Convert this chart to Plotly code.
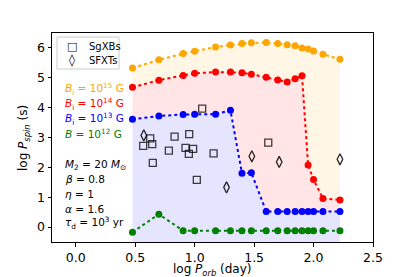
import plotly.graph_objects as go

# log orbital period (day)
log_porb = [0.477, 0.699, 0.903, 1.0, 1.176, 1.301, 1.398, 1.477, 1.602, 1.699,
            1.778, 1.845, 1.903, 1.954, 2.0, 2.079, 2.222]

# log spin period (s) for each initial field
p_b15 = [5.33, 5.60, 5.81, 5.89, 6.03, 6.10, 6.15, 6.17, 6.18, 6.15,
         6.11, 6.07, 6.00, 5.96, 5.90, 5.79, 5.62]
p_b14 = [4.68, 4.92, 5.08, 5.15, 5.19, 5.19, 5.17, 5.12, 5.02, 4.93,
         4.86, 4.97, 5.07, 2.08, 1.59, 0.96, 0.91]
p_b13 = [3.61, 3.72, 3.77, 3.78, 3.78, 3.91, 1.80, 1.82, 0.52, 0.52,
         0.52, 0.52, 0.52, 0.52, 0.52, 0.52, 0.52]
p_b12 = [-0.17, 0.43, -0.12, -0.12, -0.12, -0.12, -0.12, -0.12, -0.12, -0.12,
         -0.12, -0.12, -0.12, -0.12, -0.12, -0.12, -0.12]

# observed systems
sgxb_x = [0.626, 0.567, 0.643, 0.831, 0.954, 0.783, 0.923, 0.987, 0.951, 1.159,
          0.648, 1.018, 1.063, 1.619]
sgxb_y = [2.97, 2.72, 2.78, 3.03, 3.11, 2.56, 2.65, 2.62, 2.45, 2.47,
          2.15, 1.58, 3.97, 2.83]
sfxt_x = [0.572, 1.268, 1.481, 1.711, 2.222]
sfxt_y = [3.07, 1.33, 2.37, 2.18, 2.27]

legend_names = ["SgXBs", "SFXTs"]
legend_glyphs = ["□", "◊"]

field_labels = ["<i>B</i><sub>i</sub> = 10<sup>15</sup> G",
                "<i>B</i><sub>i</sub> = 10<sup>14</sup> G",
                "<i>B</i><sub>i</sub> = 10<sup>13</sup> G",
                "<i>B</i> = 10<sup>12</sup> G"]
param_labels = ["<i>M</i><sub>2</sub> = 20 <i>M</i><sub>⊙</sub>",
                "<i>β</i> = 0.8",
                "<i>η</i> = 1",
                "<i>α</i> = 1.6",
                "<i>τ</i><sub>d</sub> = 10<sup>3</sup> yr"]

x_title = "log <i>P</i><sub><i>orb</i></sub> (day)"
y_title = "log <i>P</i><sub><i>spin</i></sub> (s)"

YMIN, YMAX = -0.5, 6.5
XMIN, XMAX = -0.2, 2.5

ORANGE = "#FFA500"
RED = "#FF0000"
BLUE = "#0000FF"
GREEN = "#008000"

W, H = 415, 277
ML, MR, MT, MB = 52, 42, 33, 35
PW, PH = W - ML - MR, H - MT - MB


def px2paper_x(px):
    return (px - ML) / PW


def px2paper_y(py):
    return (H - MB - py) / PH


fig = go.Figure()

# baseline for fill
fig.add_trace(go.Scatter(x=log_porb, y=[YMIN - 1] * len(log_porb), mode="lines",
                         line=dict(width=0), showlegend=False, hoverinfo="skip"))
for ys, col, fillc in [(p_b13, BLUE, "rgba(0,0,255,0.1)"),
                       (p_b14, RED, "rgba(255,0,0,0.1)"),
                       (p_b15, ORANGE, "rgba(255,165,0,0.1)")]:
    fig.add_trace(go.Scatter(x=log_porb, y=ys, mode="lines+markers",
                             line=dict(color=col, width=2, dash="dot"),
                             marker=dict(color=col, size=7),
                             fill="tonexty", fillcolor=fillc, showlegend=False))

fig.add_trace(go.Scatter(x=log_porb, y=p_b12, mode="lines+markers",
                         line=dict(color=GREEN, width=2, dash="dot"),
                         marker=dict(color=GREEN, size=7), showlegend=False))

fig.add_trace(go.Scatter(x=sgxb_x, y=sgxb_y, mode="markers", name=legend_names[0],
                         showlegend=False,
                         marker=dict(symbol="square-open", size=7,
                                     color="rgba(0,0,0,0.75)",
                                     line=dict(width=1.3))))
fig.add_trace(go.Scatter(x=sfxt_x, y=sfxt_y, mode="markers", name=legend_names[1],
                         showlegend=False,
                         marker=dict(symbol="diamond-tall-open", size=8,
                                     color="rgba(0,0,0,0.85)",
                                     line=dict(width=1.3))))

ann = []
TEXT_X = px2paper_x(63)
for lab, col, py in zip(field_labels, [ORANGE, RED, BLUE, GREEN],
                        [89, 104, 119, 133]):
    ann.append(dict(x=TEXT_X, y=px2paper_y(py), xref="paper", yref="paper",
                    text=lab, showarrow=False,
                    xanchor="left", yanchor="middle",
                    font=dict(color=col, size=10.5, family="DejaVu Sans")))
for lab, py in zip(param_labels, [165, 179, 194, 209, 223]):
    ann.append(dict(x=TEXT_X, y=px2paper_y(py), xref="paper", yref="paper",
                    text=lab, showarrow=False,
                    xanchor="left", yanchor="middle",
                    font=dict(color="black", size=10.5, family="DejaVu Sans")))

# legend (drawn as a framed box with glyph + label text)
for i, (g, name) in enumerate(zip(legend_glyphs, legend_names)):
    py = 46 + 14 * i
    ann.append(dict(x=px2paper_x(72), y=px2paper_y(py), xref="paper", yref="paper",
                    text=g, showarrow=False, xanchor="center", yanchor="middle",
                    font=dict(color="black", size=11 if i == 0 else 12,
                              family="DejaVu Sans")))
    ann.append(dict(x=px2paper_x(87), y=px2paper_y(py), xref="paper", yref="paper",
                    text=name, showarrow=False, xanchor="left", yanchor="middle",
                    font=dict(color="black", size=10, family="DejaVu Sans")))

# axis titles
ann.append(dict(x=0.5, y=px2paper_y(261), xref="paper", yref="paper",
                text=x_title, showarrow=False, xanchor="center", yanchor="top",
                borderpad=0,
                font=dict(color="black", size=12, family="DejaVu Sans")))
ann.append(dict(x=px2paper_x(24), y=px2paper_y(138), xref="paper", yref="paper",
                text=y_title, showarrow=False, xanchor="center", yanchor="middle",
                textangle=-90,
                font=dict(color="black", size=12, family="DejaVu Sans")))

shapes = [dict(type="rect", xref="paper", yref="paper",
               x0=px2paper_x(57), x1=px2paper_x(119),
               y0=px2paper_y(69), y1=px2paper_y(37),
               line=dict(color="#cccccc", width=1),
               fillcolor="rgba(255,255,255,0.8)", layer="above")]

axis_common = dict(showline=True, linecolor="black", linewidth=1, mirror=True,
                   ticks="outside", ticklen=3.5, tickwidth=1, tickcolor="black",
                   showgrid=False, zeroline=False, automargin=False,
                   tickfont=dict(size=12.5, color="black", family="DejaVu Sans"))

fig.update_layout(
    width=W, height=H,
    margin=dict(l=ML, r=MR, t=MT, b=MB),
    paper_bgcolor="white", plot_bgcolor="white",
    font=dict(family="DejaVu Sans", color="black"),
    xaxis=dict(range=[XMIN, XMAX], tickvals=[0, 0.5, 1.0, 1.5, 2.0, 2.5],
               ticktext=["0.0", "0.5", "1.0", "1.5", "2.0", "2.5"],
               **axis_common),
    yaxis=dict(range=[YMIN, YMAX], tickvals=[0, 1, 2, 3, 4, 5, 6],
               **axis_common),
    annotations=ann,
    shapes=shapes,
    showlegend=False,
)

fig.write_html("out.html", config={"displayModeBar": False},
               post_script="document.body.style.margin='0px';"
                           "document.body.style.overflow='hidden';")
